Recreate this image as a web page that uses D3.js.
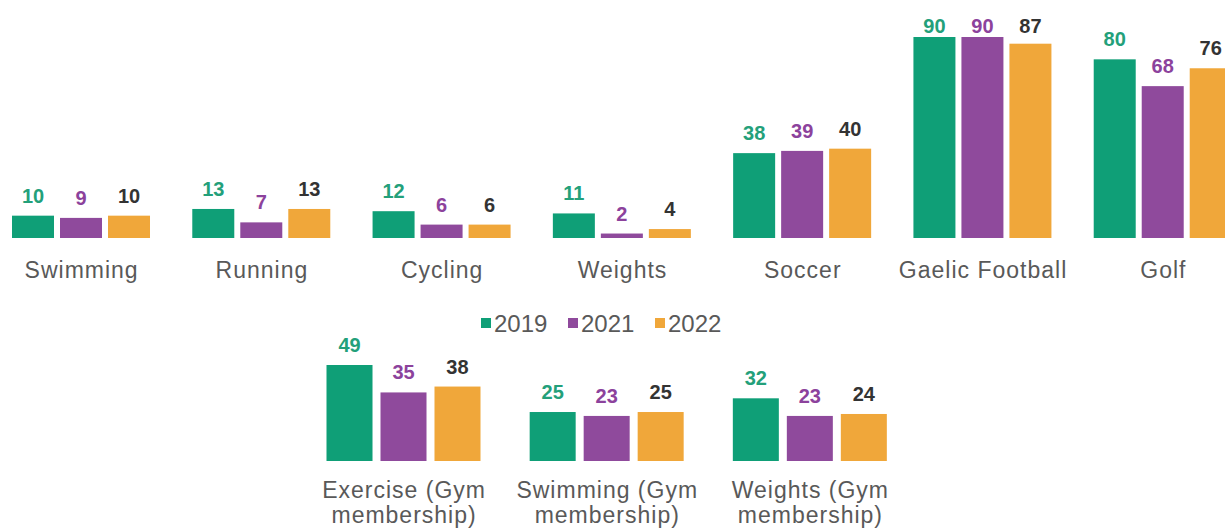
<!DOCTYPE html>
<html>
<head>
<meta charset="utf-8">
<script src="https://cdn.jsdelivr.net/npm/d3@7"></script>
<style>
  html, body { margin: 0; padding: 0; background: #ffffff; }
  svg { display: block; }
</style>
</head>
<body>
<svg id="chart" width="1225" height="530"></svg>
<script>
// ---- data ----
const years = ["2019", "2021", "2022"];
const topCategories = ["Swimming", "Running", "Cycling", "Weights", "Soccer", "Gaelic Football", "Golf"];
const top2019 = [10, 13, 12, 11, 38, 90, 80];
const top2021 = [9, 7, 6, 2, 39, 90, 68];
const top2022 = [10, 13, 6, 4, 40, 87, 76];
const bottomCategories = ["Exercise (Gym membership)", "Swimming (Gym membership)", "Weights (Gym membership)"];
const bottomLabelLines = [["Exercise (Gym", "membership)"], ["Swimming (Gym", "membership)"], ["Weights (Gym", "membership)"]];
const bottom2019 = [49, 25, 32];
const bottom2021 = [35, 23, 23];
const bottom2022 = [38, 25, 24];

// ---- style ----
const barColors = { "2019": "#0f9f77", "2021": "#8f4a9c", "2022": "#f0a73a" };
const labelColors = { "2019": "#23a07a", "2021": "#8c429c", "2022": "#333333" };
const catColor = "#595959";
const catFont = "'Liberation Sans', Arial, sans-serif";

const svg = d3.select("#chart");

function buildRows(cats, a, b, c) {
  return cats.map((cat, i) => ({ cat, values: [
    { year: years[0], v: a[i] }, { year: years[1], v: b[i] }, { year: years[2], v: c[i] }
  ]}));
}

function drawPanel(rows, x0, x1, y, labelMinBaseline) {
  const g = svg.append("g");
  const groups = g.selectAll("g.grp").data(rows).join("g")
    .attr("class", "grp")
    .attr("transform", d => `translate(${x0(d.cat)},0)`);
  groups.selectAll("rect").data(d => d.values).join("rect")
    .attr("x", d => x1(d.year))
    .attr("width", x1.bandwidth())
    .attr("y", d => y(d.v))
    .attr("height", d => y(0) - y(d.v))
    .attr("fill", d => barColors[d.year]);
  groups.selectAll("text.val").data(d => d.values).join("text")
    .attr("class", "val")
    .attr("x", d => x1(d.year) + x1.bandwidth() / 2)
    .attr("y", d => Math.max(y(d.v) - 13, labelMinBaseline))
    .attr("text-anchor", "middle")
    .attr("font-family", catFont)
    .attr("font-weight", "bold")
    .attr("font-size", 20)
    .attr("fill", d => labelColors[d.year])
    .text(d => d.v);
  return g;
}

// ---- top panel ----
const topRows = buildRows(topCategories, top2019, top2021, top2022);
const xTop = d3.scaleBand().domain(topCategories).range([-9, 1253]).paddingInner(0).paddingOuter(0);
const xTopInner = d3.scaleBand().domain(years).range([21, 159]).paddingInner(0.125);
const yTop = d3.scaleLinear().domain([0, 90]).range([238, 37]);
drawPanel(topRows, xTop, xTopInner, yTop, 33);

svg.append("g").selectAll("text").data(topCategories).join("text")
  .attr("x", d => xTop(d) + xTop.bandwidth() / 2 + 0.5)
  .attr("y", 278)
  .attr("text-anchor", "middle")
  .attr("font-family", catFont)
  .attr("font-size", 23)
  .attr("letter-spacing", 1)
  .attr("fill", catColor)
  .text(d => d);

// ---- legend ----
const legendX = [481, 568, 655];
const lg = svg.append("g").selectAll("g").data(years).join("g")
  .attr("transform", (d, i) => `translate(${legendX[i]},318)`);
lg.append("rect").attr("width", 10).attr("height", 10).attr("fill", d => barColors[d]);
lg.append("text").attr("x", 13).attr("y", 14)
  .attr("font-family", catFont).attr("font-size", 24).attr("fill", catColor)
  .text(d => d);

// ---- bottom panel ----
const bottomRows = buildRows(bottomCategories, bottom2019, bottom2021, bottom2022);
const xBot = d3.scaleBand().domain(bottomCategories).range([302, 911.5]).paddingInner(0).paddingOuter(0);
const xBotInner = d3.scaleBand().domain(years).range([24.5, 178.5]).paddingInner(0.148);
const yBot = d3.scaleLinear().domain([0, 49]).range([461, 365]);
drawPanel(bottomRows, xBot, xBotInner, yBot, 0);

const bl = svg.append("g").selectAll("text").data(bottomCategories).join("text")
  .attr("x", d => xBot(d) + xBot.bandwidth() / 2 + 0.5)
  .attr("y", 498)
  .attr("text-anchor", "middle")
  .attr("font-family", catFont)
  .attr("font-size", 23)
  .attr("letter-spacing", 1)
  .attr("fill", catColor);
bl.selectAll("tspan").data((d, i) => bottomLabelLines[i]).join("tspan")
  .attr("x", function() { return d3.select(this.parentNode).attr("x"); })
  .attr("dy", (d, i) => i === 0 ? 0 : 25)
  .text(d => d);
</script>
</body>
</html>
